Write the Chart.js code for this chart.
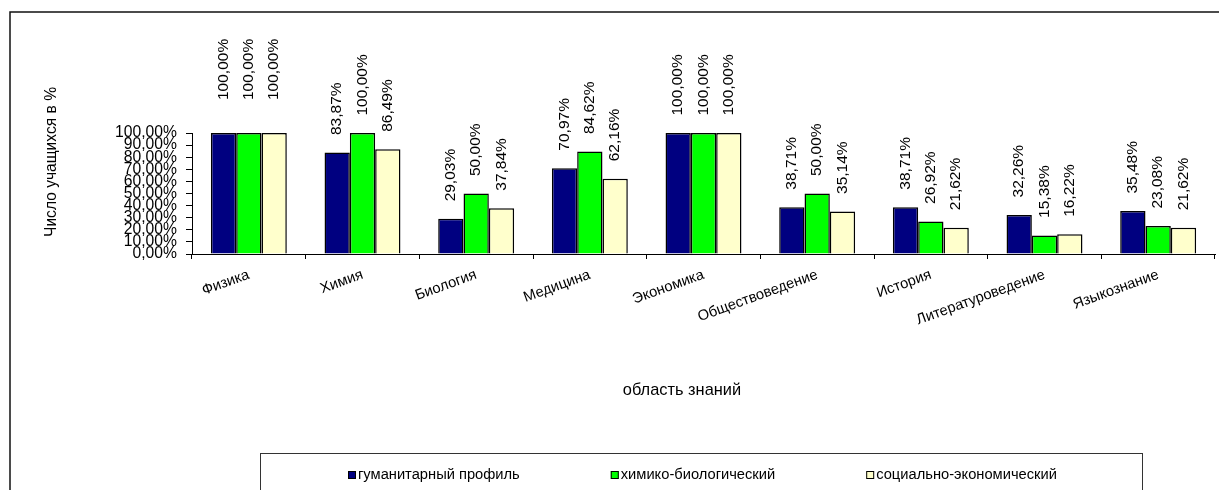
<!DOCTYPE html>
<html>
<head>
<meta charset="utf-8">
<script src="https://cdn.jsdelivr.net/npm/chart.js@4/dist/chart.umd.min.js"></script>
<style>
  html, body { margin: 0; padding: 0; background: #fff; }
  #wrap { width: 1219px; height: 490px; position: relative; }
</style>
</head>
<body>
<div id="wrap"><canvas id="c" width="1219" height="490"></canvas></div>
<script>
// Области знаний (категории оси X)
const categories = ['Физика', 'Химия', 'Биология', 'Медицина', 'Экономика',
  'Обществоведение', 'История', 'Литературоведение', 'Языкознание'];

// Доля учащихся по профилям, %
const humanitarian = [100, 83.87, 29.03, 70.97, 100, 38.71, 38.71, 32.26, 35.48];
const chemBio      = [100, 100, 50, 84.62, 100, 50, 26.92, 15.38, 23.08];
const socioEcon    = [100, 86.49, 37.84, 62.16, 100, 35.14, 21.62, 16.22, 21.62];

const seriesNames = ['гуманитарный профиль', 'химико-биологический', 'социально-экономический'];

// Деления оси Y
const yTicks = [0, 10, 20, 30, 40, 50, 60, 70, 80, 90, 100];

const FONT = '"Liberation Sans", Arial, sans-serif';
const pct = v => v.toFixed(2).replace('.', ',') + '%';

// Рамка диаграммы, подписи осей и легенда
const decorPlugin = {
  id: 'decor',
  beforeDraw(chart) {
    const ctx = chart.ctx;
    ctx.save();
    ctx.fillStyle = '#fff';
    ctx.fillRect(0, 0, chart.width, chart.height);
    ctx.strokeStyle = '#111';
    ctx.lineWidth = 1.5;
    ctx.beginPath();
    ctx.moveTo(10, chart.height + 2);
    ctx.lineTo(10, 12);
    ctx.lineTo(chart.width + 2, 12);
    ctx.stroke();
    ctx.restore();
  },
  afterDraw(chart) {
    const ctx = chart.ctx;
    ctx.save();
    ctx.fillStyle = '#000';
    // подпись оси Y
    ctx.font = '15.6px ' + FONT;
    ctx.textAlign = 'center';
    ctx.textBaseline = 'middle';
    ctx.translate(52, 162);
    ctx.rotate(-Math.PI / 2);
    ctx.fillText('Число учащихся в %', 0, 0);
    ctx.restore();

    // подпись оси X
    ctx.save();
    ctx.fillStyle = '#000';
    ctx.font = '16.4px ' + FONT;
    ctx.textAlign = 'center';
    ctx.textBaseline = 'middle';
    ctx.fillText('область знаний', 682, 390);
    ctx.restore();

    // легенда
    ctx.save();
    ctx.strokeStyle = '#333';
    ctx.lineWidth = 1;
    ctx.strokeRect(260.5, 453.5, 882, 60);
    ctx.font = '14.7px ' + FONT;
    ctx.textAlign = 'left';
    ctx.textBaseline = 'middle';
    let x = 348;
    const y = 475;
    chart.data.datasets.forEach((ds) => {
      ctx.fillStyle = ds.backgroundColor;
      ctx.fillRect(x, y - 4, 8, 8);
      ctx.strokeStyle = '#000';
      ctx.lineWidth = 1;
      ctx.strokeRect(x + 0.5, y - 3.5, 7, 7);
      ctx.fillStyle = '#000';
      ctx.fillText(ds.label, x + 10, y);
      x += 10 + ctx.measureText(ds.label).width + 91;
    });
    ctx.restore();
  }
};

// Вертикальные подписи значений над столбцами
const valueLabels = {
  id: 'valueLabels',
  afterDatasetsDraw(chart, args, opts) {
    const ctx = chart.ctx;
    ctx.save();
    ctx.fillStyle = '#000';
    ctx.font = opts.size + 'px ' + FONT;
    ctx.textAlign = 'left';
    ctx.textBaseline = 'middle';
    chart.data.datasets.forEach((ds, di) => {
      const meta = chart.getDatasetMeta(di);
      meta.data.forEach((bar, i) => {
        const lift = opts.gap + (opts.extraLift[i] || 0);
        ctx.save();
        ctx.translate(bar.x, bar.y - lift);
        ctx.rotate(-Math.PI / 2);
        ctx.fillText(pct(ds.data[i]), 0, 0);
        ctx.restore();
      });
    });
    ctx.restore();
  }
};

const mkSet = (label, data, color) => ({
  label, data,
  backgroundColor: color,
  borderColor: '#000',
  borderWidth: 1.5,
  categoryPercentage: 0.668,
  barPercentage: 1.0
});

new Chart(document.getElementById('c'), {
  type: 'bar',
  data: {
    labels: categories,
    datasets: [
      mkSet(seriesNames[0], humanitarian, '#000080'),
      mkSet(seriesNames[1], chemBio, '#00FF00'),
      mkSet(seriesNames[2], socioEcon, '#FFFFCC')
    ]
  },
  plugins: [decorPlugin, valueLabels],
  options: {
    responsive: false,
    animation: false,
    events: [],
    layout: { padding: { left: 0, top: 133, right: 4, bottom: 0 } },
    plugins: {
      legend: { display: false },
      tooltip: { enabled: false },
      valueLabels: { size: 15.5, gap: 17.5, extraLift: [15.5] }
    },
    scales: {
      x: {
        offset: true,
        afterFit(scale) { scale.height = 236; },
        grid: {
          offset: true,
          drawOnChartArea: false,
          drawTicks: true,
          tickLength: 5,
          color: '#000'
        },
        border: { color: '#000', width: 1 },
        ticks: {
          color: '#000',
          font: { family: FONT, size: 14.7 },
          minRotation: 20,
          maxRotation: 20,
          autoSkip: false,
          padding: 7
        }
      },
      y: {
        min: 0,
        max: 100,
        afterFit(scale) { scale.width = 192; },
        afterBuildTicks(scale) { scale.ticks = yTicks.map(v => ({ value: v })); },
        grid: {
          drawOnChartArea: false,
          drawTicks: true,
          tickLength: 6,
          color: '#000'
        },
        border: { color: '#000', width: 1 },
        ticks: {
          color: '#000',
          autoSkip: false,
          font: { family: FONT, size: 15.7 },
          padding: 9,
          callback: v => pct(v)
        }
      }
    }
  }
});
</script>
</body>
</html>
